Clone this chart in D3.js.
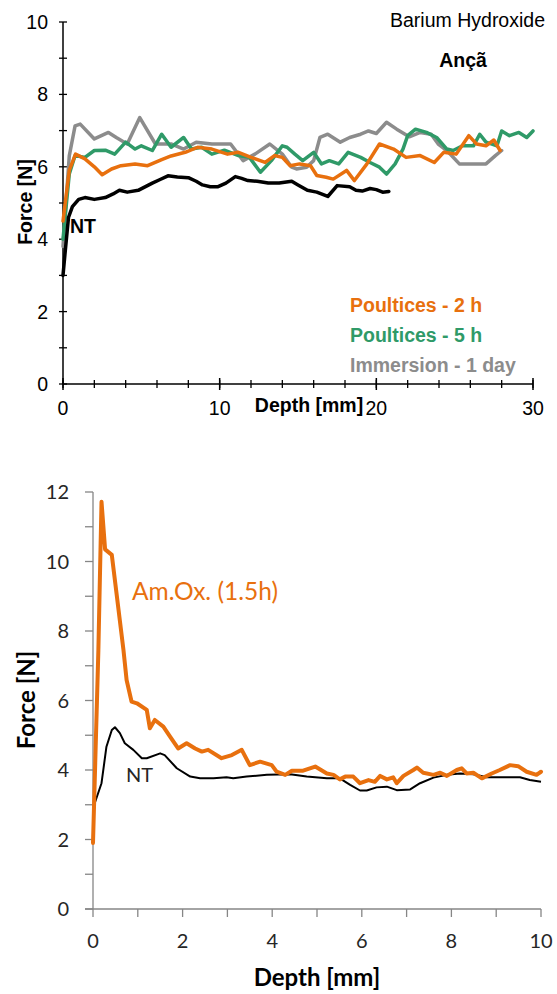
<!DOCTYPE html>
<html><head><meta charset="utf-8">
<script src="https://cdn.jsdelivr.net/npm/d3@7"></script>
<style>body{margin:0;background:#fff}svg{display:block}</style>
</head><body>
<svg id="c" width="557" height="994"></svg>
<script>
// ---------- Top chart data (Barium Hydroxide, Ançã) ----------
const topXTicks = [0, 10, 20, 30];
const topYTicks = [0, 2, 4, 6, 8, 10];
const ntTop = [[0,3.0],[0.15,3.7],[0.35,4.6],[0.6,4.9],[1.0,5.1],[1.4,5.15],[2.0,5.1],[2.7,5.15],[3.2,5.25],[3.6,5.35],[4.1,5.3],[4.8,5.35],[5.7,5.55],[6.2,5.65],[6.7,5.75],[7.3,5.72],[8.0,5.7],[8.5,5.6],[8.9,5.5],[9.4,5.45],[9.9,5.45],[10.4,5.55],[11.0,5.73],[11.4,5.68],[11.8,5.62],[12.4,5.6],[13.1,5.55],[13.8,5.55],[14.6,5.6],[15.0,5.5],[15.6,5.35],[16.2,5.3],[16.9,5.18],[17.5,5.48],[18.3,5.45],[18.7,5.35],[19.1,5.33],[19.6,5.4],[20.0,5.37],[20.4,5.3],[20.8,5.32]];
const poultices2h = [[0,4.5],[0.4,5.9],[0.8,6.35],[1.4,6.22],[2.0,6.0],[2.5,5.78],[3.1,5.94],[3.7,6.03],[4.6,6.08],[5.4,6.03],[6.3,6.2],[6.9,6.3],[7.8,6.4],[8.6,6.54],[9.5,6.49],[10.5,6.35],[11.2,6.4],[12.0,6.26],[12.9,6.12],[13.5,6.31],[14.0,6.26],[14.5,6.03],[15.1,6.08],[15.8,6.03],[16.2,5.76],[16.8,5.71],[17.25,5.66],[18.1,5.9],[18.6,5.62],[19.4,6.08],[20.2,6.63],[21.1,6.49],[21.9,6.26],[22.8,6.31],[23.7,6.12],[24.3,6.4],[25.1,6.35],[25.9,6.86],[26.4,6.63],[27.0,6.58],[27.5,6.74],[27.9,6.45]];
const poultices5h = [[0,4.0],[0.4,5.8],[0.77,6.31],[1.4,6.26],[2.0,6.45],[2.7,6.46],[3.3,6.35],[4.0,6.68],[4.6,6.49],[5.0,6.58],[5.7,6.45],[6.3,6.9],[6.9,6.54],[7.7,6.81],[8.2,6.49],[8.85,6.54],[9.5,6.35],[10.3,6.46],[11.2,6.31],[11.9,6.26],[12.6,5.85],[13.3,6.17],[14.0,6.58],[14.3,6.54],[14.8,6.35],[15.3,6.17],[16.0,6.4],[16.5,6.08],[17.0,6.17],[17.6,6.08],[18.2,6.4],[19.0,6.26],[19.6,6.12],[20.2,5.99],[20.65,5.8],[21.2,6.08],[21.7,6.49],[22.0,6.86],[22.5,7.04],[23.2,6.95],[23.85,6.81],[24.5,6.49],[24.9,6.45],[25.5,6.58],[26.2,6.58],[26.6,6.9],[27.0,6.68],[27.7,6.58],[28.0,6.99],[28.5,6.86],[29.1,6.95],[29.6,6.81],[30.0,6.99]];
const immersion1d = [[0,3.8],[0.4,6.3],[0.77,7.13],[1.1,7.18],[2.0,6.77],[2.9,6.95],[3.4,6.81],[4.1,6.63],[4.9,7.36],[5.9,6.63],[6.9,6.63],[7.7,6.49],[8.5,6.68],[9.5,6.63],[10.7,6.63],[11.5,6.17],[12.25,6.35],[13.2,6.63],[14.0,6.35],[14.6,5.99],[14.9,5.94],[15.55,5.99],[16.0,6.17],[16.4,6.81],[16.9,6.9],[17.7,6.68],[18.3,6.81],[19.0,6.9],[19.5,6.99],[20.0,6.92],[20.65,7.23],[21.3,7.04],[22.1,6.83],[22.8,6.95],[23.5,6.9],[23.95,6.63],[24.5,6.45],[25.3,6.08],[26.2,6.08],[27.0,6.08],[27.6,6.31],[28.0,6.45]];

// ---------- Bottom chart data (Am.Ox. 1.5h vs NT) ----------
const botXTicks = [0, 2, 4, 6, 8, 10];
const botYTicks = [0, 2, 4, 6, 8, 10, 12];
const amOx = [[0,1.9],[0.12,7.45],[0.19,11.72],[0.27,10.35],[0.42,10.19],[0.68,7.45],[0.75,6.59],[0.86,5.97],[0.98,5.92],[1.2,5.73],[1.27,5.2],[1.38,5.44],[1.57,5.25],[1.72,4.96],[1.9,4.62],[2.09,4.77],[2.28,4.62],[2.43,4.53],[2.57,4.58],[2.87,4.34],[3.1,4.43],[3.32,4.58],[3.5,4.14],[3.73,4.24],[3.99,4.14],[4.1,3.95],[4.29,3.86],[4.44,3.98],[4.69,3.98],[4.96,4.1],[5.22,3.9],[5.37,3.86],[5.51,3.73],[5.63,3.81],[5.81,3.81],[5.96,3.62],[6.15,3.71],[6.29,3.66],[6.41,3.83],[6.56,3.73],[6.7,3.79],[6.78,3.62],[6.93,3.83],[7.15,4.0],[7.23,4.07],[7.37,3.92],[7.6,3.86],[7.75,3.92],[7.9,3.83],[8.12,4.0],[8.23,4.05],[8.34,3.9],[8.49,3.92],[8.68,3.76],[8.9,3.9],[9.08,4.0],[9.31,4.14],[9.49,4.11],[9.68,3.95],[9.9,3.86],[10.0,3.95]];
const ntBot = [[0,2.9],[0.19,3.62],[0.3,4.67],[0.42,5.15],[0.49,5.23],[0.6,5.06],[0.71,4.77],[0.9,4.58],[1.09,4.34],[1.2,4.34],[1.5,4.48],[1.6,4.43],[1.87,4.05],[2.17,3.81],[2.39,3.76],[2.69,3.76],[2.98,3.79],[3.13,3.76],[3.43,3.81],[3.88,3.86],[4.4,3.88],[4.77,3.81],[5.22,3.76],[5.51,3.76],[5.74,3.57],[5.96,3.41],[6.11,3.41],[6.33,3.5],[6.56,3.52],[6.78,3.42],[7.08,3.44],[7.3,3.62],[7.6,3.78],[7.9,3.86],[8.19,3.9],[8.49,3.88],[8.79,3.79],[9.08,3.79],[9.53,3.79],[9.75,3.71],[10.0,3.66]];

const svg = d3.select('#c');

// ================= TOP CHART =================
(function(){
  const font = "'Liberation Sans', Arial, sans-serif";
  const fs = 19.5;
  const x = d3.scaleLinear().domain([0,30]).range([63,533]);
  const y = d3.scaleLinear().domain([0,10]).range([384,22]);
  const g = svg.append('g');
  const line = d3.line().x(d=>x(d[0])).y(d=>y(d[1]));
  const series = [
    {data: immersion1d, color:'#8c8c8c'},
    {data: poultices5h, color:'#2f9a68'},
    {data: poultices2h, color:'#e8700e'},
    {data: ntTop, color:'#000000'}
  ];
  g.append('line').attr('x1',x(0)).attr('x2',x(0)).attr('y1',y(10)).attr('y2',y(0)).attr('stroke','#000').attr('stroke-width',1.5);
  d3.range(0,11,1).forEach(v=>{
    g.append('line').attr('x1',x(0)-4).attr('x2',x(0)+4).attr('y1',y(v)).attr('y2',y(v)).attr('stroke','#000').attr('stroke-width',1.3);
  });
  topYTicks.forEach(v=>{
    g.append('text').attr('x',x(0)-15).attr('y',y(v)).attr('dy','0.36em').attr('text-anchor','end')
      .attr('font-family',font).attr('font-size',fs).text(v);
  });
  g.append('line').attr('x1',x(0)).attr('x2',x(30)).attr('y1',y(0)).attr('y2',y(0)).attr('stroke','#000').attr('stroke-width',1.5);
  d3.range(0,31,2).forEach(v=>{
    g.append('line').attr('x1',x(v)).attr('x2',x(v)).attr('y1',y(0)-4).attr('y2',y(0)+4).attr('stroke','#000').attr('stroke-width',1.3);
  });
  topXTicks.forEach(v=>{
    g.append('line').attr('x1',x(v)).attr('x2',x(v)).attr('y1',y(0)-6).attr('y2',y(0)+6).attr('stroke','#000').attr('stroke-width',1.5);
    g.append('text').attr('x',x(v)).attr('y',y(0)+31).attr('text-anchor','middle')
      .attr('font-family',font).attr('font-size',fs).text(v);
  });
  series.forEach(s=>{
    g.append('path').attr('d',line(s.data)).attr('fill','none').attr('stroke',s.color)
      .attr('stroke-width',3.5).attr('stroke-linejoin','round').attr('stroke-linecap','round');
  });
  g.append('text').attr('x',309).attr('y',412).attr('text-anchor','middle').attr('font-family',font)
    .attr('font-weight','bold').attr('font-size',fs).text('Depth [mm]');
  g.append('text').attr('transform','translate(32,202) rotate(-90)').attr('text-anchor','middle').attr('font-family',font)
    .attr('font-weight','bold').attr('font-size',fs).text('Force [N]');
  g.append('text').attr('x',545).attr('y',27).attr('text-anchor','end').attr('font-family',font)
    .attr('font-size',fs).text('Barium Hydroxide');
  g.append('text').attr('x',463).attr('y',67).attr('text-anchor','middle').attr('font-family',font)
    .attr('font-weight','bold').attr('font-size',fs).text('Ançã');
  g.append('text').attr('x',70).attr('y',233).attr('font-family',font)
    .attr('font-weight','bold').attr('font-size',fs).text('NT');
  const leg = [['Poultices - 2 h','#e8700e',312],['Poultices - 5 h','#2f9a68',342],['Immersion - 1 day','#8c8c8c',372]];
  leg.forEach(l=>{
    g.append('text').attr('x',350).attr('y',l[2]).attr('font-family',font).attr('font-weight','bold')
      .attr('font-size',fs).attr('fill',l[1]).text(l[0]);
  });
})();

// ================= BOTTOM CHART =================
(function(){
  const font = "Lato, 'Open Sans', sans-serif";
  const x = d3.scaleLinear().domain([0,10]).range([93,541]);
  const y = d3.scaleLinear().domain([0,12]).range([909,492]);
  const g = svg.append('g');
  const axisCol = '#868686';
  const line = d3.line().x(d=>x(d[0])).y(d=>y(d[1]));
  g.append('line').attr('x1',x(0)).attr('x2',x(0)).attr('y1',y(12)).attr('y2',y(0)).attr('stroke',axisCol).attr('stroke-width',1.3);
  d3.range(0,13,1).forEach(v=>{
    g.append('line').attr('x1',x(0)-8).attr('x2',x(0)).attr('y1',y(v)).attr('y2',y(v)).attr('stroke',axisCol).attr('stroke-width',1.3);
  });
  botYTicks.forEach(v=>{
    g.append('text').attr('x',x(0)-24).attr('y',y(v)).attr('dy','0.36em').attr('text-anchor','end')
      .attr('font-family',font).attr('font-size',20).attr('fill','#262626').text(v);
  });
  g.append('line').attr('x1',x(0)-8).attr('x2',x(10)).attr('y1',y(0)).attr('y2',y(0)).attr('stroke',axisCol).attr('stroke-width',1.3);
  d3.range(0,11,1).forEach(v=>{
    g.append('line').attr('x1',x(v)).attr('x2',x(v)).attr('y1',y(0)).attr('y2',y(0)+8).attr('stroke',axisCol).attr('stroke-width',1.3);
  });
  botXTicks.forEach(v=>{
    g.append('text').attr('x',x(v)).attr('y',y(0)+39).attr('text-anchor','middle')
      .attr('font-family',font).attr('font-size',20).attr('fill','#262626').text(v);
  });
  g.append('path').attr('d',line(ntBot)).attr('fill','none').attr('stroke','#000').attr('stroke-width',2).attr('stroke-linejoin','round');
  g.append('path').attr('d',line(amOx)).attr('fill','none').attr('stroke','#e8700e').attr('stroke-width',4).attr('stroke-linejoin','round').attr('stroke-linecap','round');
  g.append('text').attr('x',317).attr('y',986).attr('text-anchor','middle').attr('font-family',font)
    .attr('font-weight','bold').attr('font-size',24).text('Depth [mm]');
  g.append('text').attr('transform','translate(35,700) rotate(-90)').attr('text-anchor','middle').attr('font-family',font)
    .attr('font-weight','bold').attr('font-size',24).text('Force [N]');
  g.append('text').attr('x',132).attr('y',600).attr('font-family',font)
    .attr('font-size',24.5).attr('fill','#e8700e').text('Am.Ox. (1.5h)');
  g.append('text').attr('x',126).attr('y',782).attr('font-family',font)
    .attr('font-size',20).attr('fill','#262626').text('NT');
})();
</script>
</body></html>
